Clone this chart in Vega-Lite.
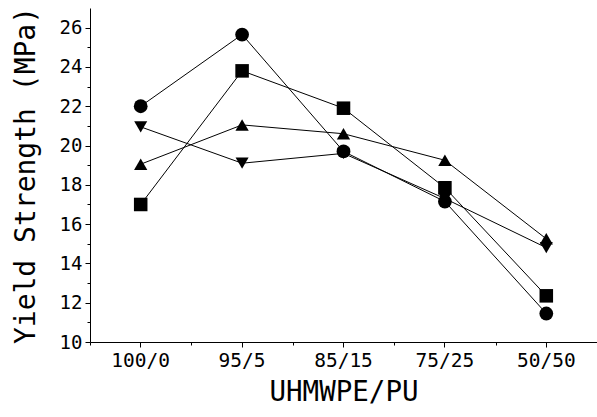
{
  "$schema": "https://vega.github.io/schema/vega-lite/v6.json",
  "autosize": {"type": "none"},
  "padding": {"left": 90, "top": 8, "right": 0, "bottom": 75},
  "width": 507,
  "height": 334,
  "config": {
    "view": {"stroke": null},
    "axis": {
      "labelFont": "DejaVu Sans Mono",
      "titleFont": "DejaVu Sans Mono",
      "labelColor": "black",
      "titleColor": "black",
      "domainColor": "black",
      "tickColor": "black",
      "titleFontWeight": "normal",
      "grid": false
    }
  },
  "data": {
    "values": [
      {"series": "circle", "ratio": "100/0", "strength": 22.0},
      {"series": "circle", "ratio": "95/5", "strength": 25.65},
      {"series": "circle", "ratio": "85/15", "strength": 19.7},
      {"series": "circle", "ratio": "75/25", "strength": 17.15},
      {"series": "circle", "ratio": "50/50", "strength": 11.45},
      {"series": "square", "ratio": "100/0", "strength": 17.0},
      {"series": "square", "ratio": "95/5", "strength": 23.8},
      {"series": "square", "ratio": "85/15", "strength": 21.9},
      {"series": "square", "ratio": "75/25", "strength": 17.85},
      {"series": "square", "ratio": "50/50", "strength": 12.35},
      {"series": "up", "ratio": "100/0", "strength": 19.05},
      {"series": "up", "ratio": "95/5", "strength": 21.05},
      {"series": "up", "ratio": "85/15", "strength": 20.6},
      {"series": "up", "ratio": "75/25", "strength": 19.25},
      {"series": "up", "ratio": "50/50", "strength": 15.25},
      {"series": "down", "ratio": "100/0", "strength": 20.95},
      {"series": "down", "ratio": "95/5", "strength": 19.1},
      {"series": "down", "ratio": "85/15", "strength": 19.6},
      {"series": "down", "ratio": "75/25", "strength": 17.3},
      {"series": "down", "ratio": "50/50", "strength": 14.8}
    ]
  },
  "layer": [
    {
      "mark": {"type": "line", "color": "black", "strokeWidth": 1},
      "encoding": {
        "x": {
          "field": "ratio",
          "type": "ordinal",
          "sort": ["100/0", "95/5", "85/15", "75/25", "50/50"],
          "scale": {"type": "band", "paddingInner": 0, "paddingOuter": 0},
          "axis": {
            "title": "UHMWPE/PU",
            "titleFontSize": 27.5,
            "titlePadding": 9,
            "labelFontSize": 19.5,
            "labelAngle": 0,
            "labelPadding": 4,
            "tickSize": 5
          }
        },
        "y": {
          "field": "strength",
          "type": "quantitative",
          "scale": {"domain": [10, 27], "nice": false, "zero": false},
          "axis": {
            "title": "Yield Strength (MPa)",
            "titleFontSize": 28,
            "titlePadding": 19,
            "labelFontSize": 19,
            "labelPadding": 3,
            "tickSize": 5,
            "values": [10, 12, 14, 16, 18, 20, 22, 24, 26]
          }
        },
        "detail": {"field": "series"}
      }
    },
    {
      "mark": {"type": "point", "filled": true, "color": "black", "opacity": 1},
      "encoding": {
        "x": {
          "field": "ratio",
          "type": "ordinal",
          "sort": ["100/0", "95/5", "85/15", "75/25", "50/50"],
          "axis": {
            "orient": "bottom",
            "tickBand": "extent",
            "tickSize": 3,
            "labels": false,
            "domain": false,
            "title": null
          }
        },
        "y": {
          "field": "strength",
          "type": "quantitative",
          "axis": {
            "orient": "left",
            "values": [11, 13, 15, 17, 19, 21, 23, 25],
            "tickSize": 3,
            "labels": false,
            "domain": false,
            "title": null
          }
        },
        "shape": {
          "field": "series",
          "type": "nominal",
          "scale": {
            "domain": ["circle", "square", "up", "down"],
            "range": ["circle", "square", "triangle-up", "triangle-down"]
          },
          "legend": null
        },
        "size": {
          "field": "series",
          "type": "nominal",
          "scale": {
            "domain": ["circle", "square", "up", "down"],
            "range": [190, 170, 380, 380]
          },
          "legend": null
        }
      }
    }
  ],
  "resolve": {"axis": {"x": "independent", "y": "independent"}}
}
